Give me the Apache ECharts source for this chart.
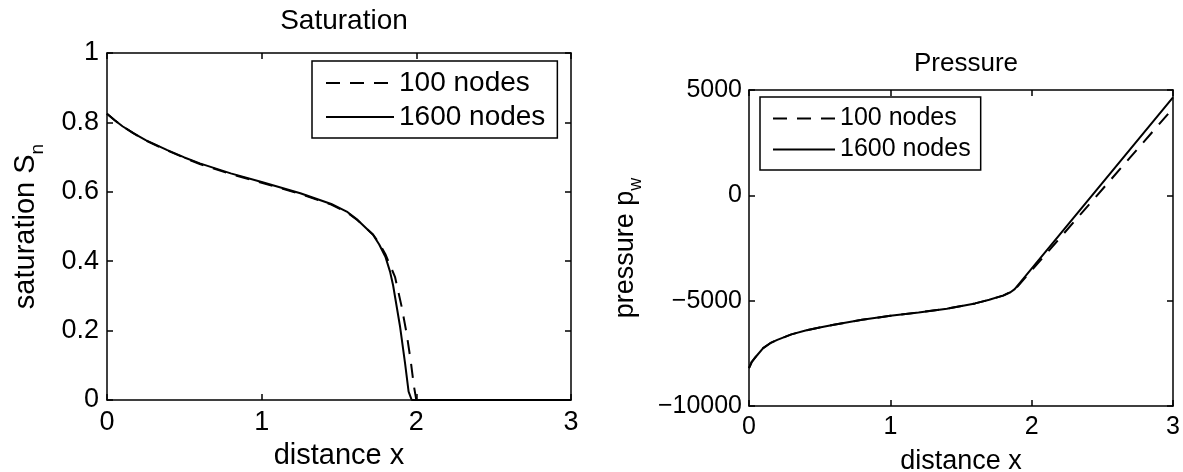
<!DOCTYPE html>
<html>
<head>
    <meta charset="utf-8" />
    <title>Saturation and pressure</title>
    <script type="text/javascript" src="https://cdn.jsdelivr.net/npm/echarts@6/dist/echarts.min.js"></script>
    <style>
        html, body { margin: 0; padding: 0; background: #fff; }
        #chart { width: 1183px; height: 472px; }
    </style>
</head>
<body>
    <div id="chart"></div>
    <script type="text/javascript">
        // saturation, 100 nodes (dashed)
        var satX100 = [0, 0.05, 0.1, 0.17, 0.25, 0.39, 0.5, 0.6, 0.8, 1.0, 1.25, 1.45, 1.55, 1.62, 1.72, 1.76, 1.8, 1.862, 1.905, 1.937, 1.963, 1.985, 2.0, 3.0];
        var sat100 = [0.825, 0.806, 0.789, 0.769, 0.748, 0.719, 0.698, 0.68, 0.651, 0.626, 0.594, 0.563, 0.541, 0.518, 0.477, 0.452, 0.42, 0.355, 0.269, 0.192, 0.115, 0.038, 0, 0];
        // saturation, 1600 nodes (solid)
        var satX1600 = [0, 0.05, 0.1, 0.17, 0.25, 0.39, 0.5, 0.6, 0.8, 1.0, 1.25, 1.45, 1.55, 1.62, 1.72, 1.76, 1.8, 1.83, 1.85, 1.895, 1.927, 1.95, 1.97, 3.0];
        var sat1600 = [0.825, 0.806, 0.789, 0.769, 0.749, 0.72, 0.699, 0.682, 0.653, 0.628, 0.596, 0.565, 0.543, 0.519, 0.476, 0.448, 0.413, 0.37, 0.33, 0.211, 0.106, 0.024, 0, 0];
        // pressure, 100 nodes (dashed)
        var presX100 = [0, 0.02, 0.05, 0.1, 0.15, 0.2, 0.3, 0.4, 0.5, 0.6, 0.8, 1.0, 1.2, 1.4, 1.6, 1.7, 1.8, 1.85, 1.9, 3.0];
        var pres100 = [-8200, -7900, -7650, -7250, -7020, -6860, -6600, -6420, -6270, -6140, -5910, -5720, -5560, -5380, -5130, -4960, -4760, -4590, -4330, 4130];
        // pressure, 1600 nodes (solid)
        var presX1600 = [0, 0.02, 0.05, 0.1, 0.15, 0.2, 0.3, 0.4, 0.5, 0.6, 0.8, 1.0, 1.2, 1.4, 1.6, 1.7, 1.8, 1.85, 1.88, 3.0];
        var pres1600 = [-8200, -7900, -7650, -7250, -7020, -6860, -6600, -6420, -6270, -6140, -5910, -5720, -5560, -5380, -5130, -4960, -4750, -4600, -4450, 4650];

        var xTicks = [0, 1, 2, 3];
        var satTicks = [0, 0.2, 0.4, 0.6, 0.8, 1];
        var presTicks = [-10000, -5000, 0, 5000];
        var legendNames = ['100 nodes', '1600 nodes'];

        var FONT = "'Liberation Sans', Arial, Helvetica, sans-serif";

        function zip(xs, ys) {
            var out = [];
            for (var i = 0; i < xs.length; i++) out.push([xs[i], ys[i]]);
            return out;
        }
        function minusFmt(v) {
            return v < 0 ? '\u2212' + Math.abs(v) : String(v);
        }

        function xAx(grid, pos, show, size, margin) {
            return {
                type: 'value', gridIndex: grid, position: pos,
                min: xTicks[0], max: xTicks[xTicks.length - 1], interval: 1,
                axisLine: { show: true, onZero: false, lineStyle: { color: '#000', width: 1.5 } },
                axisTick: { show: true, inside: true, length: 6, lineStyle: { color: '#000', width: 1.5 } },
                axisLabel: { show: show, color: '#000', fontFamily: FONT, fontSize: size, margin: margin },
                splitLine: { show: false }
            };
        }
        function yAx(grid, pos, ticks, show, size, margin, fmt) {
            return {
                type: 'value', gridIndex: grid, position: pos,
                min: ticks[0], max: ticks[ticks.length - 1], interval: ticks[1] - ticks[0],
                axisLine: { show: true, onZero: false, lineStyle: { color: '#000', width: 1.5 } },
                axisTick: { show: true, inside: true, length: 6, lineStyle: { color: '#000', width: 1.5 } },
                axisLabel: { show: show, color: '#000', fontFamily: FONT, fontSize: size, margin: margin, formatter: fmt },
                splitLine: { show: false }
            };
        }

        var dashed = { color: '#000', width: 2, type: [14, 10] };
        var solid = { color: '#000', width: 2, type: 'solid' };

        // axes: 0 bottom / 1 top (left plot), 2 bottom / 3 top (right plot)
        var xAxes = [xAx(0, 'bottom', true, 27, 9), xAx(0, 'top', false), xAx(1, 'bottom', true, 25, 9), xAx(1, 'top', false)];
        var yAxes = [
            yAx(0, 'left', satTicks, true, 27, 8, function (v) { return String(v); }),
            yAx(0, 'right', satTicks, false),
            yAx(1, 'left', presTicks, true, 25, 7, minusFmt),
            yAx(1, 'right', presTicks, false)
        ];
        xAxes[0].name = 'distance x';
        xAxes[0].nameLocation = 'middle';
        xAxes[0].nameGap = 41;
        xAxes[0].nameTextStyle = { color: '#000', fontFamily: FONT, fontSize: 29 };
        xAxes[2].name = 'distance x';
        xAxes[2].nameLocation = 'middle';
        xAxes[2].nameGap = 42;
        xAxes[2].nameTextStyle = { color: '#000', fontFamily: FONT, fontSize: 27 };
        yAxes[0].name = 'saturation S{sub|n}';
        yAxes[0].nameLocation = 'middle';
        yAxes[0].nameGap = 60;
        yAxes[0].nameTextStyle = { color: '#000', fontFamily: FONT, fontSize: 29,
            rich: { sub: { fontFamily: FONT, fontSize: 19, color: '#000', padding: [23, 0, 0, 0] } } };
        yAxes[2].name = 'pressure p{sub|w}';
        yAxes[2].nameLocation = 'middle';
        yAxes[2].nameGap = 104;
        yAxes[2].nameTextStyle = { color: '#000', fontFamily: FONT, fontSize: 27,
            rich: { sub: { fontFamily: FONT, fontSize: 18, color: '#000', padding: [21, 0, 0, 0] } } };

        var myChart = echarts.init(document.getElementById('chart'), null, { renderer: 'canvas' });
        var option = {
            backgroundColor: '#fff',
            animation: false,
            title: [
                { text: 'Saturation', left: 339, top: 2, textAlign: 'center',
                  textStyle: { color: '#000', fontFamily: FONT, fontSize: 28, fontWeight: 'normal' } },
                { text: 'Pressure', left: 961, top: 46, textAlign: 'center',
                  textStyle: { color: '#000', fontFamily: FONT, fontSize: 26, fontWeight: 'normal' } }
            ],
            legend: [
                { data: legendNames.slice(), orient: 'vertical', left: 312, top: 61,
                  itemWidth: 68, itemHeight: 14, itemGap: 6, padding: [8, 12, 7, 13],
                  itemStyle: { opacity: 0 },
                  backgroundColor: '#fff', borderColor: '#000', borderWidth: 1.5, borderRadius: 0,
                  textStyle: { color: '#000', fontFamily: FONT, fontSize: 28 } },
                { orient: 'vertical', left: 760, top: 97,
                  itemWidth: 62, itemHeight: 14, itemGap: 6, padding: [9, 10, 8, 12],
                  itemStyle: { opacity: 0 },
                  backgroundColor: '#fff', borderColor: '#000', borderWidth: 1.5, borderRadius: 0,
                  textStyle: { color: '#000', fontFamily: FONT, fontSize: 25 } }
            ],
            grid: [
                { left: 107, top: 53, width: 464, height: 347, containLabel: false, outerBoundsMode: 'none' },
                { left: 749, top: 90, width: 424, height: 316, containLabel: false, outerBoundsMode: 'none' }
            ],
            xAxis: xAxes,
            yAxis: yAxes,
            series: [
                { name: legendNames[0], type: 'line', xAxisIndex: 0, yAxisIndex: 0, data: zip(satX100, sat100),
                  showSymbol: false, symbol: 'none', lineStyle: dashed, itemStyle: { color: '#000' } },
                { name: legendNames[1], type: 'line', xAxisIndex: 0, yAxisIndex: 0, data: zip(satX1600, sat1600),
                  showSymbol: false, symbol: 'none', lineStyle: solid, itemStyle: { color: '#000' } },
                { name: legendNames[0], type: 'line', xAxisIndex: 2, yAxisIndex: 2, data: zip(presX100, pres100),
                  showSymbol: false, symbol: 'none', lineStyle: dashed, itemStyle: { color: '#000' } },
                { name: legendNames[1], type: 'line', xAxisIndex: 2, yAxisIndex: 2, data: zip(presX1600, pres1600),
                  showSymbol: false, symbol: 'none', lineStyle: solid, itemStyle: { color: '#000' } }
            ]
        };
        option && myChart.setOption(option);
    </script>
</body>
</html>
